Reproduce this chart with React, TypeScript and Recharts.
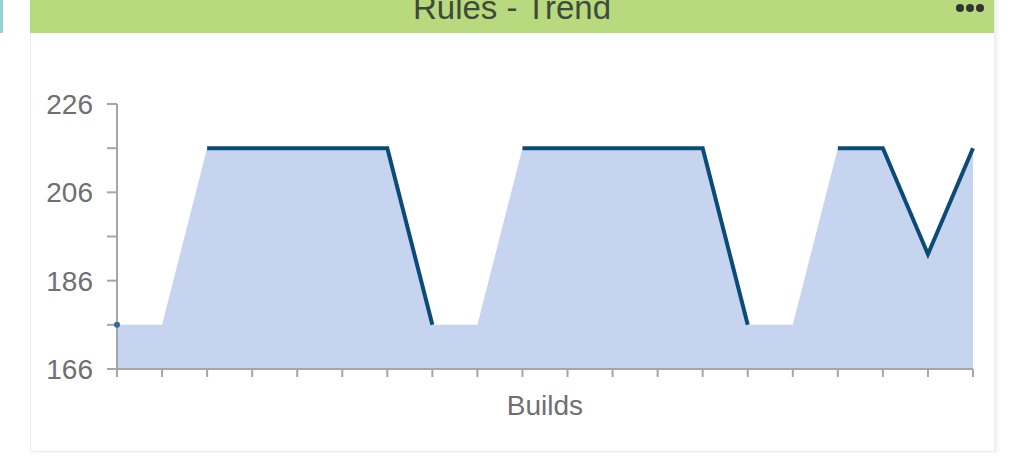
import React from 'react';
import { ComposedChart, Area, Line, XAxis, YAxis } from 'recharts';

const builds = [
  'B1', 'B2', 'B3', 'B4', 'B5', 'B6', 'B7', 'B8', 'B9', 'B10',
  'B11', 'B12', 'B13', 'B14', 'B15', 'B16', 'B17', 'B18', 'B19', 'B20',
];
const ruleCounts = [176, 176, 216, 216, 216, 216, 216, 176, 176, 216, 216, 216, 216, 216, 176, 176, 216, 216, 192, 216];
// trend line is only drawn on some stretches, gaps are null
const trendLine = [176, null, 216, 216, 216, 216, 216, 176, null, 216, 216, 216, 216, 216, 176, null, 216, 216, 192, 216];
const yTicks = [166, 176, 186, 196, 206, 216, 226];
const yLabels = [166, 186, 206, 226];

const data = builds.map((b, i) => ({ build: b, rules: ruleCounts[i], trend: trendLine[i] }));

const fontFamily = '"Liberation Sans", Arial, sans-serif';

// marker only for points with no neighbours
const LonelyDot: React.FC<any> = ({ cx, cy, index }) => {
  const prev = index > 0 ? trendLine[index - 1] : null;
  const next = index < trendLine.length - 1 ? trendLine[index + 1] : null;
  if (trendLine[index] == null || prev != null || next != null) return <g key={index} />;
  return <circle key={index} cx={cx} cy={cy} r={3} fill="#2f6c9c" />;
};

const menuDot: React.CSSProperties = {
  position: 'absolute', top: 4, width: 8, height: 8, borderRadius: 4, background: '#333',
};

const App: React.FC = () => {
  return (
    <div style={{ position: 'absolute', left: 0, top: 0, width: 1015, height: 463, background: '#fff', overflow: 'hidden', fontFamily }}>
      <div style={{ position: 'absolute', left: 0, top: 0, width: 3, height: 33, background: '#8fd3d3' }} />
      <div
        style={{
          position: 'absolute', left: 30, top: -2, width: 963, height: 452,
          border: '1px solid #ececec', boxShadow: '3px 0 3px #f2f2f2', background: '#fff',
        }}
      />
      <div style={{ position: 'absolute', left: 30, top: 0, width: 964, height: 33, background: '#b8d97e', overflow: 'hidden' }}>
        <div style={{ position: 'absolute', left: 0, right: 0, top: -9, lineHeight: '33px', fontSize: 33, textAlign: 'center', color: '#3f4a3a' }}>
          Rules - Trend
        </div>
        <div style={{ ...menuDot, left: 926 }} />
        <div style={{ ...menuDot, left: 936 }} />
        <div style={{ ...menuDot, left: 946 }} />
      </div>
      <div style={{ position: 'absolute', left: 0, top: 0 }}>
        <ComposedChart width={1015} height={463} data={data} margin={{ top: 104, right: 42, left: 0, bottom: 0 }}>
          <XAxis
            dataKey="build"
            scale="point"
            padding={{ left: 0, right: 0 }}
            height={94}
            interval={0}
            tickFormatter={() => ''}
            tickSize={8}
            axisLine={{ stroke: '#a6a6a6', strokeWidth: 2 }}
            tickLine={{ stroke: '#a6a6a6', strokeWidth: 2 }}
            label={{ value: 'Builds', position: 'insideTop', offset: 26, fill: '#707070', fontSize: 28, fontFamily }}
          />
          <YAxis
            domain={[166, 226]}
            ticks={yTicks}
            interval={0}
            width={117}
            tickSize={10}
            tickMargin={14}
            tickFormatter={(v: number) => (yLabels.includes(v) ? String(v) : '')}
            tick={{ fill: '#707070', fontSize: 28, fontFamily }}
            axisLine={{ stroke: '#a6a6a6', strokeWidth: 2 }}
            tickLine={{ stroke: '#a6a6a6', strokeWidth: 2 }}
          />
          <Area type="linear" dataKey="rules" fill="#c6d4f0" fillOpacity={1} stroke="none" isAnimationActive={false} />
          <Line
            type="linear"
            dataKey="trend"
            stroke="#0c4b78"
            strokeWidth={4}
            dot={<LonelyDot />}
            activeDot={false}
            connectNulls={false}
            isAnimationActive={false}
          />
        </ComposedChart>
      </div>
    </div>
  );
};

export default App;
